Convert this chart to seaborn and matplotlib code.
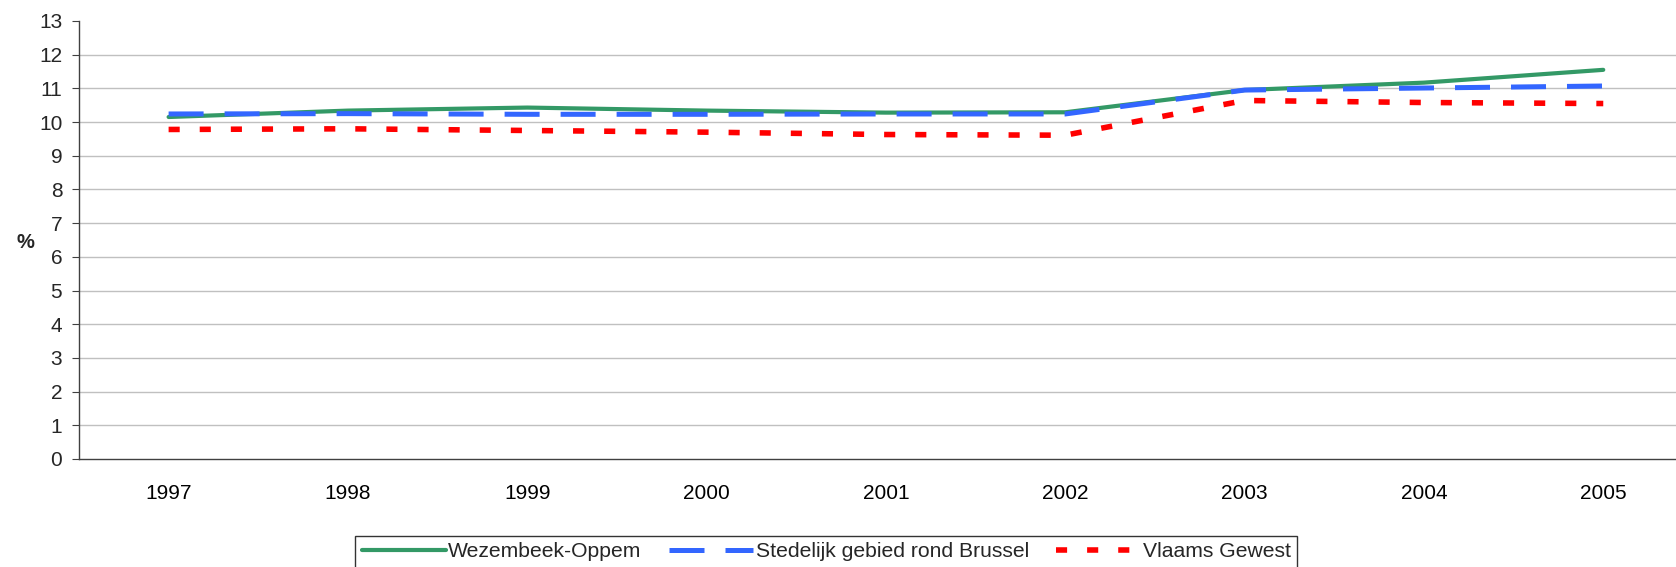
import numpy as np
import pandas as pd
import matplotlib
matplotlib.use('Agg')
import matplotlib.pyplot as plt
import seaborn as sns
from matplotlib.ticker import FixedLocator

# Data (percent)
years = ['1997', '1998', '1999', '2000', '2001', '2002', '2003', '2004', '2005']
wezembeek = [10.15, 10.34, 10.43, 10.34, 10.28, 10.29, 10.95, 11.17, 11.55]
stedelijk = [10.24, 10.25, 10.23, 10.23, 10.24, 10.24, 10.95, 11.01, 11.07]
vlaams = [9.78, 9.80, 9.75, 9.70, 9.63, 9.61, 10.64, 10.58, 10.55]

series_names = ['Wezembeek-Oppem', 'Stedelijk gebied rond Brussel', 'Vlaams Gewest']
y_ticks = list(range(0, 14))

df = pd.DataFrame({'jaar': years * 3,
                   'waarde': wezembeek + stedelijk + vlaams,
                   'reeks': np.repeat(series_names, len(years))})

sns.set_style('white')
plt.rcParams['font.family'] = ['Liberation Sans', 'DejaVu Sans']

fig = plt.figure(figsize=(16.76, 5.67), dpi=100)
ax = fig.add_axes([0.0471, 0.1905, 0.963, 0.7725])

styles = {
    'Wezembeek-Oppem': dict(color='#339966', lw=3.0, ls='-'),
    'Stedelijk gebied rond Brussel': dict(color='#3366FF', lw=3.6, ls=(0, (7, 4.2))),
    'Vlaams Gewest': dict(color='#FF0000', lw=4.0, ls=(0, (2, 3.6))),
}
for name in series_names:
    st = styles[name]
    sub = df[df['reeks'] == name]
    sns.lineplot(data=sub, x='jaar', y='waarde', ax=ax, color=st['color'],
                 linewidth=st['lw'], linestyle=st['ls'], label=name,
                 solid_capstyle='round', legend=False)

ax.set_xlim(-0.5, len(years) - 0.5)
ax.set_ylim(0, 13)
ax.set_yticks(y_ticks)
ax.set_xticks(range(len(years)))
ax.set_xticklabels(years)
ax.xaxis.set_minor_locator(FixedLocator(np.arange(0.5, len(years), 1.0)))

ax.tick_params(axis='x', which='major', length=0, pad=18, labelsize=15, colors='#000000')
ax.tick_params(axis='x', which='minor', length=5, width=0.8, color='#404040', direction='out')
ax.tick_params(axis='y', which='major', length=5, width=0.8, color='#404040', pad=7,
               labelsize=15, left=True, direction='out')

ax.grid(axis='y', color='#c0c0c0', linewidth=1.0)
ax.grid(axis='x', visible=False)
ax.yaxis.get_gridlines()[-1].set_visible(False)
ax.yaxis.get_gridlines()[0].set_visible(False)

for s in ['top', 'right']:
    ax.spines[s].set_visible(False)
for s in ['left', 'bottom']:
    ax.spines[s].set_color('#404040')
    ax.spines[s].set_linewidth(1.0)

ax.set_xlabel('')
ax.set_ylabel('%', rotation=0, fontsize=14.5, fontweight='bold', va='center')
ax.yaxis.set_label_coords(-0.033, 0.495)

handles, labels = ax.get_legend_handles_labels()
leg = fig.legend(handles, labels, loc='lower center', bbox_to_anchor=(0.493, -0.02), ncol=3,
                 frameon=True, fancybox=False, edgecolor='#000000', fontsize=15.2,
                 handlelength=4.0, handletextpad=0.1, columnspacing=1.3, borderpad=0.3)
leg.get_frame().set_linewidth(1.0)

fig.savefig('out.png', dpi=100, facecolor='white')
